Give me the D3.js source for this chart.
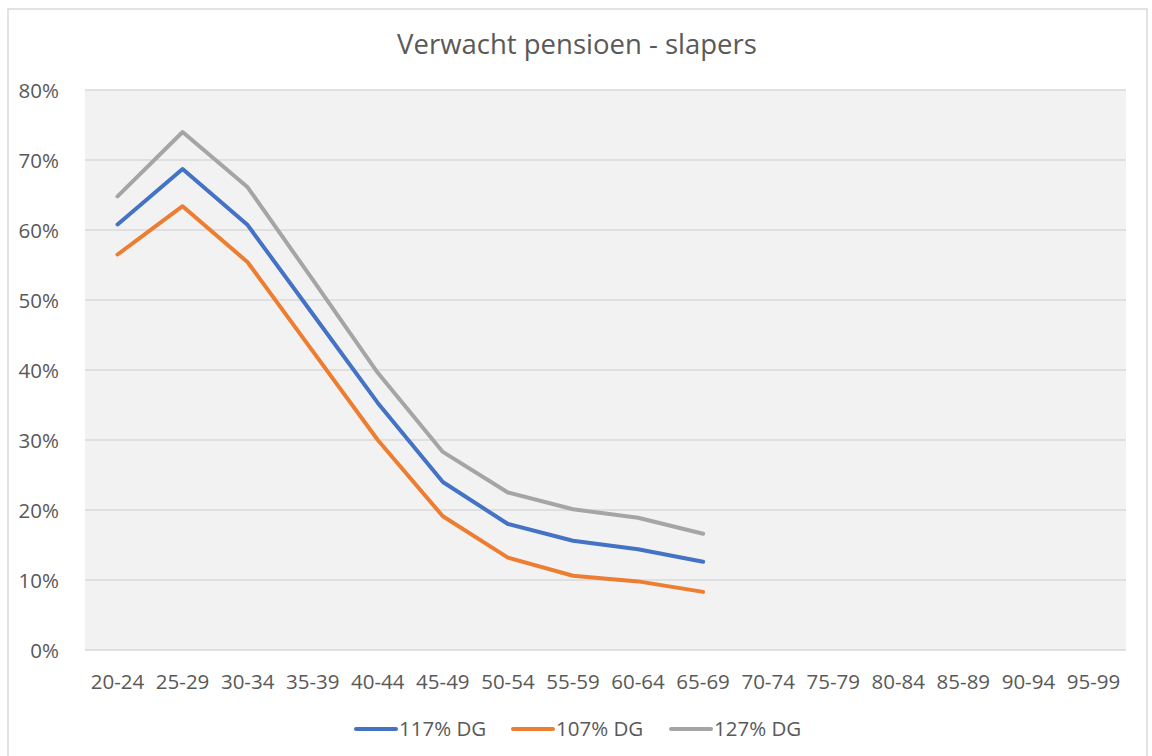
<!DOCTYPE html>
<html>
  <head>
    <meta charset="utf-8">
    <title>Verwacht pensioen - slapers</title>
    <style>
      body { margin: 0; background: #fff; }
      .chart text { font-family: "Open Sans", "Noto Sans", sans-serif; fill: #595959; }
      .axis path, .axis line { display: none; }
    </style>
  </head>
  <body>
    <div class="chart"></div>

    <script src="https://d3js.org/d3.v7.min.js"></script>
    <script>
      // categories and series
      const ageGroups = ["20-24", "25-29", "30-34", "35-39", "40-44", "45-49", "50-54", "55-59",
        "60-64", "65-69", "70-74", "75-79", "80-84", "85-89", "90-94", "95-99"];
      const dg117 = [60.8, 68.7, 60.7, 48.0, 35.3, 24.0, 18.0, 15.6, 14.4, 12.6];
      const dg107 = [56.5, 63.4, 55.4, 42.7, 30.0, 19.1, 13.2, 10.6, 9.8, 8.3];
      const dg127 = [64.8, 74.0, 66.1, 52.9, 39.6, 28.3, 22.5, 20.1, 18.9, 16.6];
      const yTicks = [0, 10, 20, 30, 40, 50, 60, 70, 80];

      const series = [
        { name: "117% DG", values: dg117, color: "#4472C4" },
        { name: "107% DG", values: dg107, color: "#ED7D31" },
        { name: "127% DG", values: dg127, color: "#A5A5A5" }
      ];

      const W = 1152, H = 756;
      const margin = { top: 90, right: 26, bottom: 106, left: 85 };
      const width = W - margin.left - margin.right;
      const height = H - margin.top - margin.bottom;

      const svg = d3.select(".chart").append("svg")
        .attr("width", W).attr("height", H);

      // outer chart border
      svg.append("rect")
        .attr("x", 8).attr("y", 9).attr("width", W - 13).attr("height", H - 8)
        .attr("fill", "#fff").attr("stroke", "#d9d9d9").attr("stroke-width", 1.5);

      svg.append("text")
        .attr("x", 577).attr("y", 54)
        .attr("text-anchor", "middle")
        .style("font-size", "27.5px")
        .text("Verwacht pensioen - slapers");

      const g = svg.append("g").attr("transform", `translate(${margin.left},${margin.top})`);

      const x = d3.scaleBand().domain(ageGroups).range([0, width]);
      const y = d3.scaleLinear().domain([0, 80]).range([height, 0]);

      g.append("rect").attr("width", width).attr("height", height).attr("fill", "#f2f2f2");

      // gridlines
      g.selectAll(".grid").data(yTicks).enter().append("line")
        .attr("x1", 0).attr("x2", width)
        .attr("y1", d => y(d)).attr("y2", d => y(d))
        .attr("stroke", "#d9d9d9").attr("stroke-width", 1.5);

      g.append("g").attr("class", "axis")
        .attr("transform", "translate(-23,0)")
        .call(d3.axisLeft(y).tickValues(yTicks).tickFormat(d => d + "%").tickSize(0))
        .selectAll("text").style("font-size", "20.5px").attr("dy", "0.35em");

      g.append("g").attr("class", "axis")
        .attr("transform", `translate(0,${height + 21})`)
        .call(d3.axisBottom(x).tickSize(0))
        .selectAll("text").style("font-size", "20.5px").attr("dy", "0.71em");

      const line = d3.line()
        .x((d, i) => x(ageGroups[i]) + x.bandwidth() / 2)
        .y(d => y(d));

      g.selectAll(".series").data(series).enter().append("path")
        .attr("fill", "none")
        .attr("stroke", d => d.color)
        .attr("stroke-width", 4)
        .attr("stroke-linejoin", "round")
        .attr("stroke-linecap", "round")
        .attr("d", d => line(d.values));

      // legend
      const legendX = [356, 513, 671];
      const legend = svg.selectAll(".legend").data(series).enter().append("g")
        .attr("transform", (d, i) => `translate(${legendX[i]},729)`);
      legend.append("line")
        .attr("x1", 0).attr("x2", 40)
        .attr("stroke", d => d.color).attr("stroke-width", 4).attr("stroke-linecap", "round");
      legend.append("text")
        .attr("x", 43).attr("dy", "0.35em")
        .style("font-size", "20.5px")
        .text(d => d.name);
    </script>
  </body>
</html>
